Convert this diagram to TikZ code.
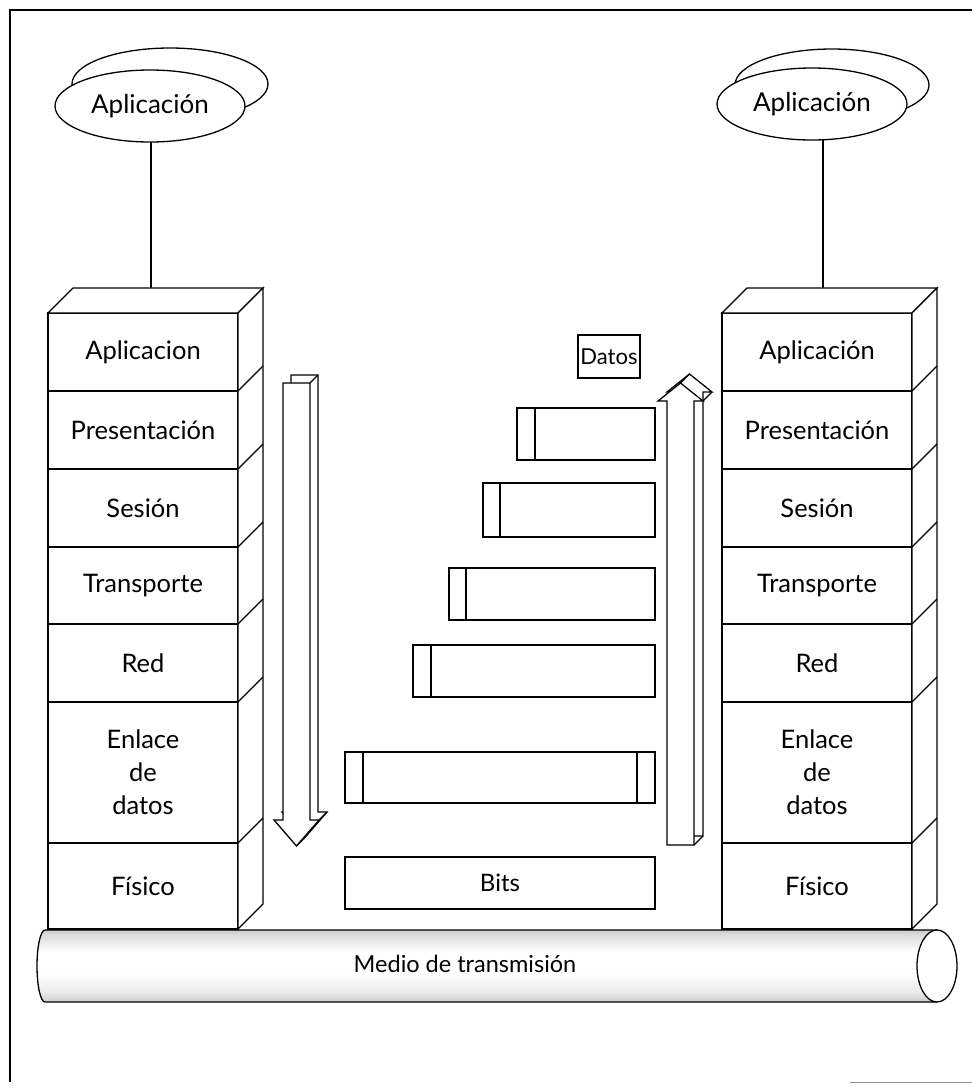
\documentclass[tikz,border=0pt]{standalone}
\usepackage{fontspec}
\setmainfont{Lato}
\usetikzlibrary{shapes.geometric,calc}

% vertical shading for the transmission cable (0bp = bottom)
\pgfdeclareverticalshading{cable}{100bp}{%
  color(0bp)=(black!85); color(7bp)=(black!62); color(18bp)=(black!32);
  color(32bp)=(black!8); color(45bp)=(white); color(60bp)=(white);
  color(72bp)=(black!14); color(84bp)=(black!42); color(93bp)=(black!68);
  color(100bp)=(black!85)}

\begin{document}
\begin{tikzpicture}[x=1pt,y=-1pt,line width=1.3pt,line join=miter,
  txt/.style={font=\fontsize{25.5}{33}\selectfont},
  layer/.style={draw,rectangle,fill=white,inner sep=0pt,outer sep=0pt,
    minimum width=190pt,align=center,txt},
  face/.style={draw,fill=white},
  pdu/.style={draw,rectangle,fill=white,inner sep=0pt,outer sep=0pt,
    minimum height=52pt},
  app/.style={draw,ellipse,fill=white,inner sep=0pt,outer sep=0pt,
    minimum height=72pt,font=\fontsize{26}{30}\selectfont},
  bigarrow/.style={draw,fill=white,line width=1.3pt,line join=miter}]
\useasboundingbox (0,0) rectangle (972,1088);

% outer frame
\draw[line width=1.5pt] (10,1082) -- (10,10) -- (972,10);
\draw[black!45,line width=0.8pt] (850,1082) -- (972,1082);

% ---------- transmission medium ----------
\shade[shading=cable]
  (937,930) -- (45,930) arc[start angle=90,end angle=270,x radius=8pt,y radius=36pt]
  -- (937,1002) -- cycle;
\draw (937,930) -- (45,930) arc[start angle=90,end angle=270,x radius=8pt,y radius=36pt]
  -- (937,1002);
\node[draw,ellipse,fill=white,inner sep=0pt,minimum width=40pt,minimum height=72pt]
  (cabEnd) at (937,966) {};
\node[font=\fontsize{23.5}{28}\selectfont] (medio) at (465,964) {Medio de transmisión};

% ---------- left stack ----------
\node[app,minimum width=196pt] (ELback) at (170,84) {};
\node[app,minimum width=190pt] (EL) at (150,106) {Aplicación};
\coordinate (LTop) at (151,288);
\draw (EL.south -| LTop) -- (LTop);

\node[layer,minimum height=78pt]  (LA) at (143,352)   {Aplicacion};
\node[layer,minimum height=78pt]  (LP) at (143,430)   {Presentación};
\node[layer,minimum height=78pt]  (LS) at (143,508)   {Sesión};
\node[layer,minimum height=77pt]  (LT) at (143,585.5) {Transporte};
\node[layer,minimum height=78pt]  (LR) at (143,663)   {Red};
\node[layer,minimum height=141pt] (LE) at (143,772.5) {Enlace\\de\\datos};
\node[layer,minimum height=86pt]  (LF) at (143,886)   {Físico};
\draw[face] (LA.north west) -- ++(25,-25) -- ($(LA.north east)+(25,-25)$)
  -- (LA.north east) -- cycle;
\draw[face] (LA.north east) -- ++(25,-25) -- ($(LF.south east)+(25,-25)$)
  -- (LF.south east) -- cycle;
\foreach \n in {LA,LP,LS,LT,LR,LE}
  \draw (\n.south east) -- ++(25,-25);

% ---------- right stack ----------
\node[app,minimum width=194pt] (ERback) at (832,85) {};
\node[app,minimum width=190pt] (ER) at (812,104) {Aplicación};
\coordinate (RTop) at (823,288);
\draw (ER.south -| RTop) -- (RTop);

\node[layer,minimum height=78pt]  (RA) at (817,352)   {Aplicación};
\node[layer,minimum height=78pt]  (RP) at (817,430)   {Presentación};
\node[layer,minimum height=78pt]  (RS) at (817,508)   {Sesión};
\node[layer,minimum height=77pt]  (RT) at (817,585.5) {Transporte};
\node[layer,minimum height=78pt]  (RR) at (817,663)   {Red};
\node[layer,minimum height=141pt] (RE) at (817,772.5) {Enlace\\de\\datos};
\node[layer,minimum height=86pt]  (RF) at (817,886)   {Físico};
\draw[face] (RA.north west) -- ++(25,-25) -- ($(RA.north east)+(25,-25)$)
  -- (RA.north east) -- cycle;
\draw[face] (RA.north east) -- ++(25,-25) -- ($(RF.south east)+(25,-25)$)
  -- (RF.south east) -- cycle;
\foreach \n in {RA,RP,RS,RT,RR,RE}
  \draw (\n.south east) -- ++(25,-25);

% ---------- encapsulated data units ----------
\node[pdu,minimum width=62pt,minimum height=43pt,font=\fontsize{22}{26}\selectfont]
  (P1) at (609,356.5) {Datos};
\node[pdu,minimum width=138pt] (P2) at (586,434) {};
\node[pdu,minimum width=172pt,minimum height=54pt] (P3) at (569,510) {};
\node[pdu,minimum width=206pt] (P4) at (552,594) {};
\node[pdu,minimum width=242pt] (P5) at (534,671) {};
\node[pdu,minimum width=310pt,minimum height=51pt] (P6) at (500,777.5) {};
\node[pdu,minimum width=310pt,font=\fontsize{24}{28}\selectfont]
  (P7) at (500,883) {Bits};
\foreach \n/\w in {P2/18,P3/17,P4/17,P5/18,P6/18}
  \draw ([xshift=\w pt]\n.north west) -- ([xshift=\w pt]\n.south west);
\draw ([xshift=-18pt]P6.north east) -- ([xshift=-18pt]P6.south east);

% ---------- downward arrow (sending side) ----------
\begin{scope}[shift={(8,-8)}]
  \draw[bigarrow] (283,383) -- (310,383) -- (310,820) -- (319,820)
    -- (296.5,846) -- (274,820) -- (283,820) -- cycle;
\end{scope}
\draw (310,383) -- ++(8,-8) (319,820) -- ++(8,-8) (296.5,846) -- ++(8,-8);
\draw[bigarrow] (283,383) -- (310,383) -- (310,820) -- (319,820)
  -- (296.5,846) -- (274,820) -- (283,820) -- cycle;

% ---------- upward arrow (receiving side) ----------
\begin{scope}[shift={(9,-9)}]
  \draw[bigarrow] (667,845) -- (694,845) -- (694,401) -- (703,401)
    -- (680.5,383) -- (658,401) -- (667,401) -- cycle;
\end{scope}
\draw (694,845) -- ++(9,-9) (703,401) -- ++(9,-9) (680.5,383) -- ++(9,-9);
\draw[bigarrow] (667,845) -- (694,845) -- (694,401) -- (703,401)
  -- (680.5,383) -- (658,401) -- (667,401) -- cycle;
\end{tikzpicture}
\end{document}
